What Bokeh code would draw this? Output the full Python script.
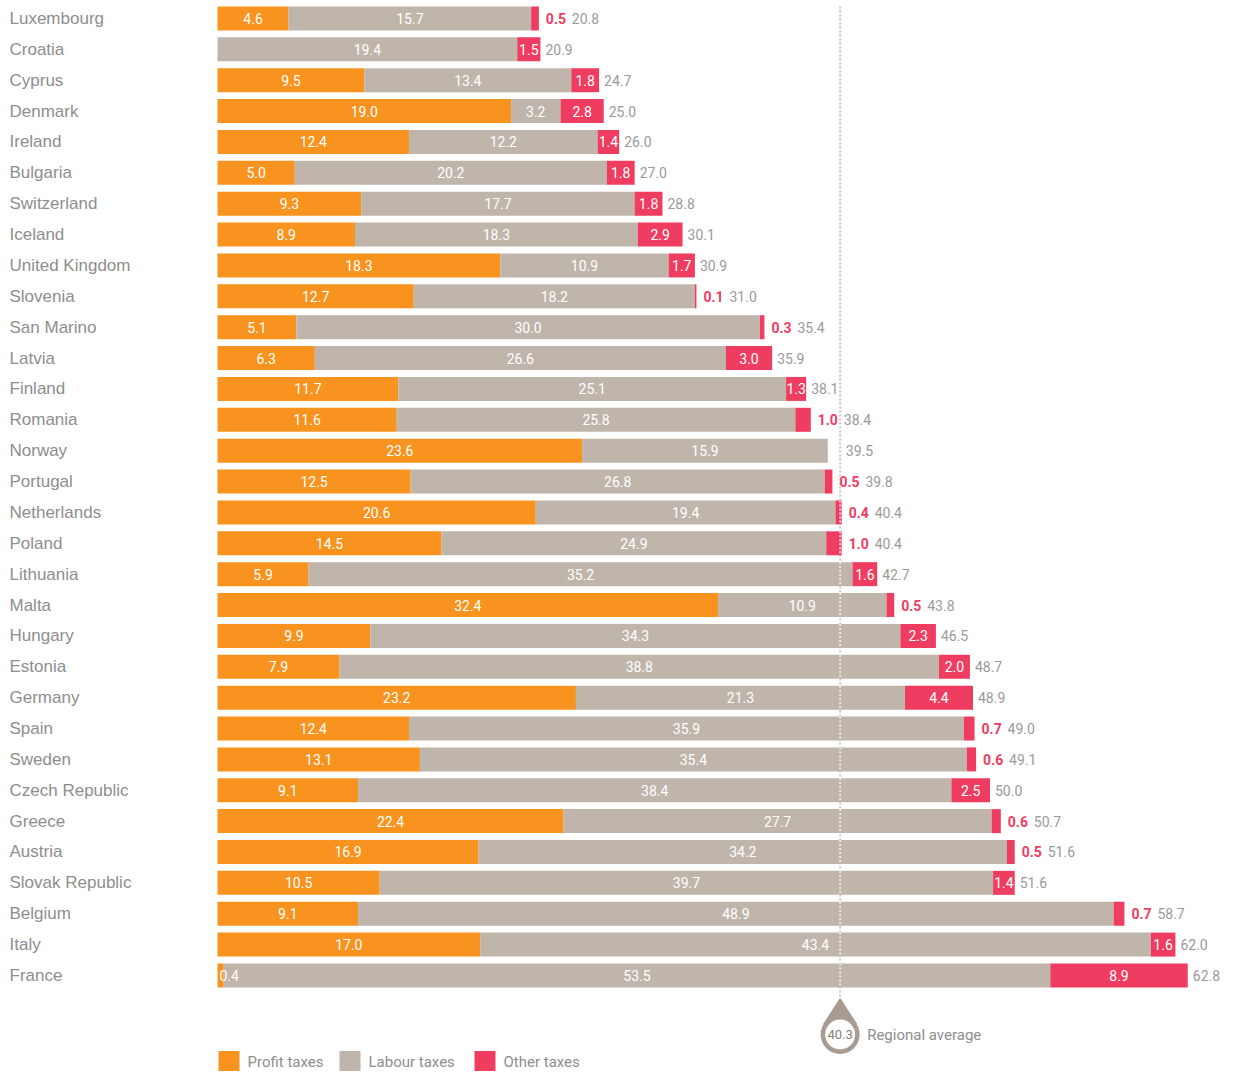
from bokeh.plotting import figure
from bokeh.models import Range1d, ColumnDataSource
from bokeh.embed import file_html
from bokeh.resources import INLINE
from bokeh.core.properties import value

# ---------------- data ----------------
countries = ["Luxembourg", "Croatia", "Cyprus", "Denmark", "Ireland", "Bulgaria",
             "Switzerland", "Iceland", "United Kingdom", "Slovenia", "San Marino",
             "Latvia", "Finland", "Romania", "Norway", "Portugal", "Netherlands",
             "Poland", "Lithuania", "Malta", "Hungary", "Estonia", "Germany", "Spain",
             "Sweden", "Czech Republic", "Greece", "Austria", "Slovak Republic",
             "Belgium", "Italy", "France"]
profit_taxes = [4.6, 0.0, 9.5, 19.0, 12.4, 5.0, 9.3, 8.9, 18.3, 12.7, 5.1, 6.3, 11.7,
                11.6, 23.6, 12.5, 20.6, 14.5, 5.9, 32.4, 9.9, 7.9, 23.2, 12.4, 13.1,
                9.1, 22.4, 16.9, 10.5, 9.1, 17.0, 0.4]
labour_taxes = [15.7, 19.4, 13.4, 3.2, 12.2, 20.2, 17.7, 18.3, 10.9, 18.2, 30.0, 26.6,
                25.1, 25.8, 15.9, 26.8, 19.4, 24.9, 35.2, 10.9, 34.3, 38.8, 21.3, 35.9,
                35.4, 38.4, 27.7, 34.2, 39.7, 48.9, 43.4, 53.5]
other_taxes = [0.5, 1.5, 1.8, 2.8, 1.4, 1.8, 1.8, 2.9, 1.7, 0.1, 0.3, 3.0, 1.3, 1.0,
               0.0, 0.5, 0.4, 1.0, 1.6, 0.5, 2.3, 2.0, 4.4, 0.7, 0.6, 2.5, 0.6, 0.5,
               1.4, 0.7, 1.6, 8.9]
totals = [20.8, 20.9, 24.7, 25.0, 26.0, 27.0, 28.8, 30.1, 30.9, 31.0, 35.4, 35.9, 38.1,
          38.4, 39.5, 39.8, 40.4, 40.4, 42.7, 43.8, 46.5, 48.7, 48.9, 49.0, 49.1, 50.0,
          50.7, 51.6, 51.6, 58.7, 62.0, 62.8]
regional_average = 40.3
series_names = ["Profit taxes", "Labour taxes", "Other taxes"]

# ---------------- style ----------------
ORANGE = "#f7931e"
BEIGE = "#bfb5ab"
PINK = "#ef3d61"
MARKER = "#a89c92"
GREY_TXT = "#8e8e8e"
TOTAL_TXT = "#9a9a9a"
NUM = value("Roboto")
REGULAR = value("Liberation Sans")

W, H = 1221, 1071
X0_PX = 217.0        # pixel position of value 0
PX_PER_UNIT = 15.45
ROW_PX = 30.87
TOP_PX = 18.0        # pixel centre of first row
BAR_H = 24.0 / ROW_PX

x_start = -X0_PX / PX_PER_UNIT
x_end = x_start + W / PX_PER_UNIT
y_top = -TOP_PX / ROW_PX
y_bottom = y_top + H / ROW_PX


def ypx(px):
    return y_top + px / ROW_PX


def xpx(px):
    return (px - X0_PX) / PX_PER_UNIT


n = len(countries)
rows = list(range(n))
p_end = profit_taxes
l_end = [a + b for a, b in zip(profit_taxes, labour_taxes)]
o_end = [a + b + c for a, b, c in zip(profit_taxes, labour_taxes, other_taxes)]

p = figure(width=W, height=H, x_range=Range1d(x_start, x_end),
           y_range=Range1d(y_bottom, y_top), output_backend="svg",
           toolbar_location=None, min_border=0, outline_line_color=None,
           x_axis_location=None, y_axis_location=None,
           background_fill_color="white", border_fill_color="white")
p.grid.visible = False

# regional average dotted line (behind bars)
tip_y = ypx(998)
p.segment(x0=[regional_average], y0=[ypx(6)], x1=[regional_average], y1=[tip_y],
          line_color="#c8c8c8", line_width=2, line_dash="2 2")

src = ColumnDataSource(dict(y=rows, zero=[0.0] * n, p1=p_end, l1=l_end, o1=o_end))
p.hbar(y="y", left="zero", right="p1", height=BAR_H, fill_color=ORANGE,
       line_color=None, source=src)
p.hbar(y="y", left="p1", right="l1", height=BAR_H, fill_color=BEIGE,
       line_color=None, source=src)
p.hbar(y="y", left="l1", right="o1", height=BAR_H, fill_color=PINK,
       line_color=None, source=src)

# dotted line over the bars that cross the average
cross = [i for i in rows if o_end[i] > regional_average]
p.segment(x0=[regional_average] * len(cross), y0=[i - BAR_H / 2 for i in cross],
          x1=[regional_average] * len(cross), y1=[i + BAR_H / 2 for i in cross],
          line_color="white", line_alpha=0.7, line_width=2, line_dash="2 2")

# country labels
p.text(x=[x_start] * n, y=rows, text=countries, x_offset=9, text_align="left",
       text_baseline="middle", text_font=REGULAR, text_font_size="17px",
       text_color=GREY_TXT)

# profit labels
pl_x, pl_y, pl_t, pl_off, pl_al = [], [], [], [], []
for i in rows:
    v = profit_taxes[i]
    if v <= 0:
        continue
    if v >= 1:
        pl_x.append(v / 2); pl_off.append(0); pl_al.append("center")
    else:
        pl_x.append(0.0); pl_off.append(2); pl_al.append("left")
    pl_y.append(i); pl_t.append(f"{v:.1f}")
p.text(x="x", y="y", text="t", x_offset="o", text_align="a",
       source=ColumnDataSource(dict(x=pl_x, y=pl_y, t=pl_t, o=pl_off, a=pl_al)),
       text_baseline="middle", text_font=NUM, text_font_size="14px",
       text_color="white")

# labour labels
p.text(x=[(a + b) / 2 for a, b in zip(p_end, l_end)], y=rows,
       text=[f"{v:.1f}" for v in labour_taxes], text_align="center",
       text_baseline="middle", text_font=NUM, text_font_size="14px",
       text_color="white")

# other labels
in_idx = [i for i in rows if other_taxes[i] >= 1.3]
out_idx = [i for i in rows if 0 < other_taxes[i] < 1.3]
p.text(x=[(l_end[i] + o_end[i]) / 2 for i in in_idx], y=in_idx,
       text=[f"{other_taxes[i]:.1f}" for i in in_idx], text_align="center",
       text_baseline="middle", text_font=NUM, text_font_size="14px",
       text_color="white")
p.text(x=[o_end[i] for i in out_idx], y=out_idx,
       text=[f"{other_taxes[i]:.1f}" for i in out_idx], x_offset=7,
       text_align="left", text_baseline="middle", text_font=NUM,
       text_font_size="14px", text_font_style="bold", text_color=PINK)

# totals
tot_off = []
for i in rows:
    if other_taxes[i] >= 1.3:
        tot_off.append(5)
    elif other_taxes[i] > 0:
        tot_off.append(33)
    else:
        tot_off.append(18)
p.text(x="x", y="y", text="t", x_offset="o",
       source=ColumnDataSource(dict(x=o_end, y=rows, t=[f"{v:.1f}" for v in totals],
                                    o=tot_off)),
       text_align="left", text_baseline="middle", text_font=NUM,
       text_font_size="14px", text_color=TOTAL_TXT)

# regional average marker (teardrop)
cy = ypx(1034)
dx = 16.4 / PX_PER_UNIT
ty = cy - 10.6 / ROW_PX
p.patch(x=[regional_average, regional_average - dx, regional_average + dx],
        y=[tip_y, ty, ty], fill_color=MARKER, line_color=MARKER)
p.scatter(x=[regional_average], y=[cy], size=39, marker="circle",
          fill_color=MARKER, line_color=None)
p.scatter(x=[regional_average], y=[cy], size=30, marker="circle",
          fill_color="white", line_color=None)
p.text(x=[regional_average], y=[cy], text=[f"{regional_average:.1f}"],
       text_align="center", text_baseline="middle", text_font=NUM,
       text_font_size="13px", text_color="#8a8076")
p.text(x=[regional_average], y=[cy], text=["Regional average"], x_offset=27,
       text_align="left", text_baseline="middle", text_font=NUM,
       text_font_size="15px", text_color=GREY_TXT)

# legend (kept inside the figure's bottom edge)
leg_y = ypx(1061)
leg_x = [xpx(228.5), xpx(349.5), xpx(484.5)]
p.scatter(x=leg_x, y=[leg_y] * 3, marker="square", size=21,
          fill_color=[ORANGE, BEIGE, PINK], line_color=None)
p.text(x=leg_x, y=[leg_y] * 3, text=series_names, x_offset=18.5,
       text_align="left", text_baseline="middle", text_font=NUM,
       text_font_size="15px", text_color=GREY_TXT)

open("out.html", "w").write(file_html(p, INLINE))
